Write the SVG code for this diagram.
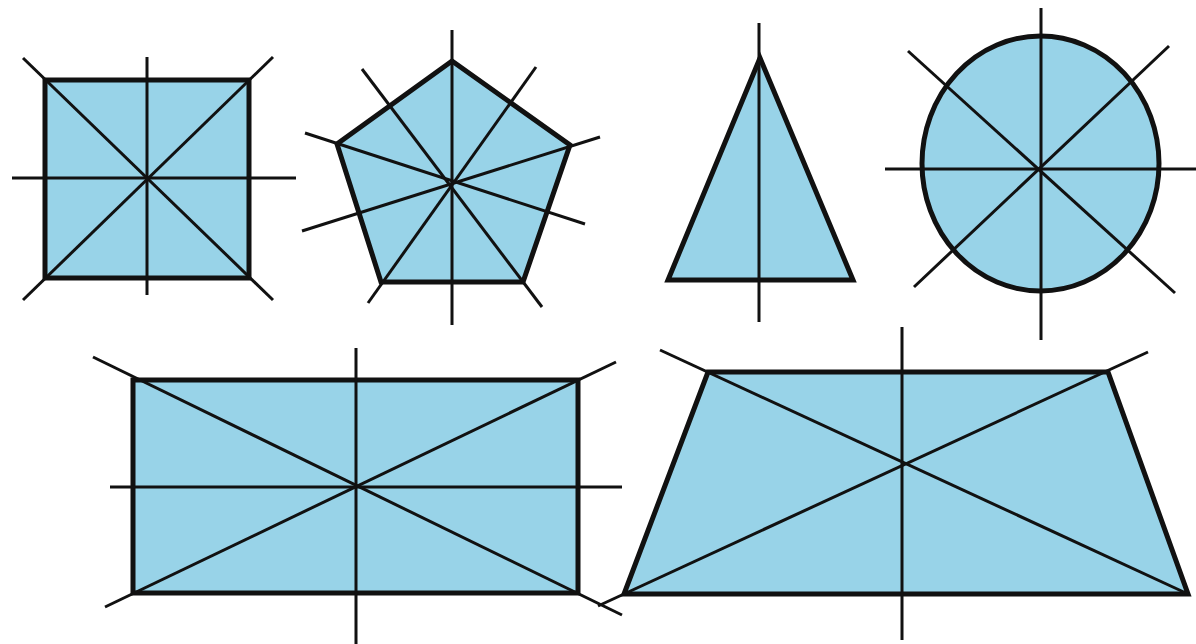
<svg xmlns="http://www.w3.org/2000/svg" width="1196" height="644" viewBox="0 0 1196 644">
<style>
.shape{fill:#98d3e8;stroke:#111;stroke-width:5;stroke-linejoin:miter}
.axis{stroke:#111;stroke-width:3;fill:none;stroke-linecap:butt}
</style>
<rect width="1196" height="644" fill="#fff"/>
<g id="square">
<rect class="shape" x="45" y="80" width="204" height="198"/>
<g class="axis-group">
<line class="axis" x1="147" y1="57" x2="147" y2="295"/>
<line class="axis" x1="12" y1="178" x2="296" y2="178"/>
<line class="axis" x1="23" y1="58" x2="273" y2="300"/>
<line class="axis" x1="23" y1="300" x2="273" y2="57"/>
</g>
</g>
<g id="pentagon">
<polygon class="shape" points="452,61 570,145 523,282 381,282 337,144"/>
<line class="axis" x1="452" y1="30" x2="452" y2="325"/>
<line class="axis" x1="600" y1="137" x2="302" y2="231"/>
<line class="axis" x1="305" y1="133" x2="585" y2="224"/>
<line class="axis" x1="368" y1="303" x2="536" y2="67"/>
<line class="axis" x1="542" y1="307" x2="362" y2="69"/>
</g>
<g id="triangle">
<polygon class="shape" points="760,58 853,280 668,280"/>
<line class="axis" x1="759" y1="23" x2="759" y2="322"/>
</g>
<g id="circle">
<ellipse class="shape" cx="1040.5" cy="163.5" rx="118.5" ry="127.5"/>
<line class="axis" x1="1041" y1="8" x2="1041" y2="340"/>
<line class="axis" x1="885" y1="169" x2="1196" y2="169"/>
<line class="axis" x1="908" y1="51" x2="1175" y2="293"/>
<line class="axis" x1="914" y1="287" x2="1169" y2="46"/>
</g>
<g id="rectangle">
<rect class="shape" x="133" y="380" width="445" height="213"/>
<line class="axis" x1="356" y1="348" x2="356" y2="644"/>
<line class="axis" x1="110" y1="487" x2="622" y2="487"/>
<line class="axis" x1="93" y1="357" x2="622" y2="615"/>
<line class="axis" x1="105" y1="607" x2="616" y2="362"/>
</g>
<g id="trapezoid">
<polygon class="shape" points="708,372 1108,372 1188,594 624,594"/>
<line class="axis" x1="902" y1="327" x2="902" y2="640"/>
<line class="axis" x1="660" y1="350" x2="1188" y2="594"/>
<line class="axis" x1="1148" y1="352" x2="598" y2="606"/>
</g>
</svg>
